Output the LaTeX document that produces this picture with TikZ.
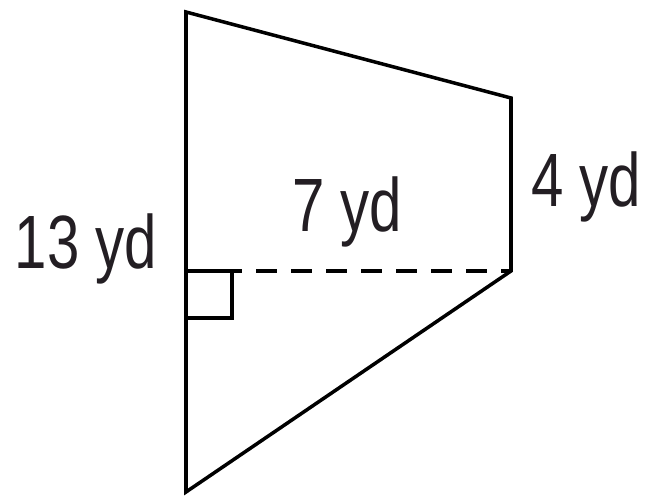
\documentclass[tikz,border=0pt]{standalone}
\usepackage{fontspec}
\usepackage{tikz}
\usetikzlibrary{positioning, calc}
\newfontfamily\labelfont{Liberation Sans}[FakeStretch=0.77]
\definecolor{mydark}{RGB}{35,30,35}
\tikzset{
  edge/.style={line width=2pt, color=black, line join=miter},
  hline/.style={line width=2pt, color=black, dash pattern=on 0.42cm off 0.28cm},
  rmark/.style={line width=1.8pt, color=black},
  dimlabel/.style={anchor=base, inner sep=0pt, color=mydark,
    font=\labelfont\fontsize{43}{50}\selectfont}
}
\begin{document}
\begin{tikzpicture}
  \useasboundingbox (0,0) rectangle (13.04,10.04);

  % Corners of the trapezoid
  \coordinate (topl) at (3.72,9.80);
  \coordinate (topr) at (10.22,8.08);
  \coordinate (botr) at (10.22,4.62);
  \coordinate (botl) at (3.72,0.20);
  \coordinate (foot) at (3.72,4.62);

  % Outline and height
  \draw[edge] (topl) -- (topr) -- (botr) -- (botl) -- cycle;
  \draw[hline] (foot) -- (botr);
  \draw[rmark] (foot) -- ++(0.92,0) -- ++(0,-0.94) -- ++(-0.92,0);

  % Labels
  \node[dimlabel] (lbase) at (1.72,4.66) {13 yd};
  \node[dimlabel] (lheight) at (6.94,5.40) {7 yd};
  \node[dimlabel] (ltop) at (11.72,5.90) {4 yd};
\end{tikzpicture}
\end{document}
